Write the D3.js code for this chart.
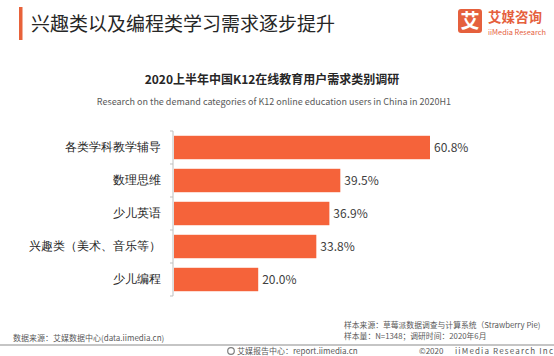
<!DOCTYPE html>
<html><head><meta charset="utf-8">
<script src="https://cdn.jsdelivr.net/npm/d3@7"></script>
<style>
html,body{margin:0;padding:0;background:#fff;}
svg{display:block;font-family:"Noto Sans CJK SC","Noto Sans",sans-serif;}
</style></head>
<body>
<svg id="c" width="554" height="356"></svg>
<script>
const categories = ["各类学科教学辅导","数理思维","少儿英语","兴趣类（美术、音乐等）","少儿编程"];
const values = [60.8, 39.5, 36.9, 33.8, 20.0];
const valueLabels = ["60.8%","39.5%","36.9%","33.8%","20.0%"];

const svg = d3.select("#c");
const orange = "#F5633A";

// header
svg.append("rect").attr("x",19).attr("y",7).attr("width",3.5).attr("height",33).attr("fill","#E8623A");
svg.append("text").attr("x",31).attr("y",31).attr("font-size",19).attr("fill","#262626")
  .text("兴趣类以及编程类学习需求逐步提升");

// logo
svg.append("rect").attr("x",458).attr("y",9).attr("width",24).attr("height",24).attr("rx",3).attr("fill","#E5603D");
svg.append("text").attr("x",470).attr("y",28).attr("text-anchor","middle").attr("font-size",19).attr("font-weight","bold").attr("fill","#fff").text("艾");
svg.append("text").attr("x",488).attr("y",22).attr("font-size",13.5).attr("font-weight","bold").attr("fill","#E5603D").text("艾媒咨询");
svg.append("text").attr("x",488).attr("y",34.5).attr("font-size",7.4).attr("fill","#E5603D").text("iiMedia Research");

// chart titles
svg.append("text").attr("x",272).attr("y",84).attr("text-anchor","middle").attr("font-size",12).attr("font-weight","bold").attr("fill","#262626")
  .text("2020上半年中国K12在线教育用户需求类别调研");
svg.append("text").attr("x",274).attr("y",105).attr("text-anchor","middle").attr("font-size",9).attr("fill","#595959")
  .text("Research on the demand categories of K12 online education users in China in 2020H1");

// scales
const y = d3.scaleBand().domain(categories).range([131,296]).paddingInner(0.29).paddingOuter(0.145);
const x = d3.scaleLinear().domain([0, 60.8]).range([174, 430]);
const axisX = 173;

// bars
svg.append("g").selectAll("rect").data(categories).join("rect")
  .attr("x", x(0)).attr("y", d=>y(d)).attr("width", (d,i)=>x(values[i])-x(0)).attr("height", y.bandwidth())
  .attr("fill", orange);

// value labels
svg.append("g").selectAll("text").data(categories).join("text")
  .attr("x",(d,i)=>x(values[i])+4).attr("y",d=>y(d)+y.bandwidth()/2).attr("dy","0.36em")
  .attr("font-size",12).attr("fill","#404040").text((d,i)=>valueLabels[i]);

// category axis
const ax = svg.append("g").attr("transform",`translate(${axisX},0)`)
  .call(d3.axisLeft(y).tickSize(0).tickPadding(12));
ax.select(".domain").remove();
ax.selectAll("text").attr("font-size",12).attr("fill","#262626").attr("font-family",null);
// axis line & ticks at band boundaries
const bounds = categories.map(d=>y(d)-y.step()*y.paddingInner()/2);
bounds.push(y.range()[1]);
svg.append("line").attr("x1",axisX).attr("x2",axisX).attr("y1",bounds[0]).attr("y2",bounds[bounds.length-1]).attr("stroke","#bfbfbf");
svg.append("g").selectAll("line").data(bounds).join("line")
  .attr("x1",axisX-3).attr("x2",axisX).attr("y1",d=>d).attr("y2",d=>d).attr("stroke","#bfbfbf");

// footer
svg.append("text").attr("x",13).attr("y",341).attr("font-size",8).attr("fill","#595959").text("数据来源：艾媒数据中心(data.iimedia.cn)");
svg.append("text").attr("x",344).attr("y",328).attr("font-size",7.8).attr("fill","#595959").text("样本来源：草莓派数据调查与计算系统（Strawberry Pie)");
svg.append("text").attr("x",344).attr("y",338.5).attr("font-size",7.8).attr("fill","#595959").text("样本量：N=1348；调研时间：2020年6月");
svg.append("line").attr("x1",0).attr("x2",554).attr("y1",345).attr("y2",345).attr("stroke","#8c8c8c").attr("stroke-width",1.2);
svg.append("circle").attr("cx",231).attr("cy",351).attr("r",3.3).attr("fill","none").attr("stroke","#7f7f7f").attr("stroke-width",1.2);
svg.append("text").attr("x",237).attr("y",354).attr("font-size",8).attr("fill","#595959").text("艾媒报告中心：report.iimedia.cn");
svg.append("text").attr("x",419).attr("y",354).attr("font-size",8).attr("fill","#595959").text("©2020");
svg.append("text").attr("x",553).attr("y",354).attr("text-anchor","end").attr("font-size",8).attr("fill","#595959")
  .attr("textLength",98).attr("lengthAdjust","spacing").text("iiMedia Research  Inc");
</script>
</body></html>
